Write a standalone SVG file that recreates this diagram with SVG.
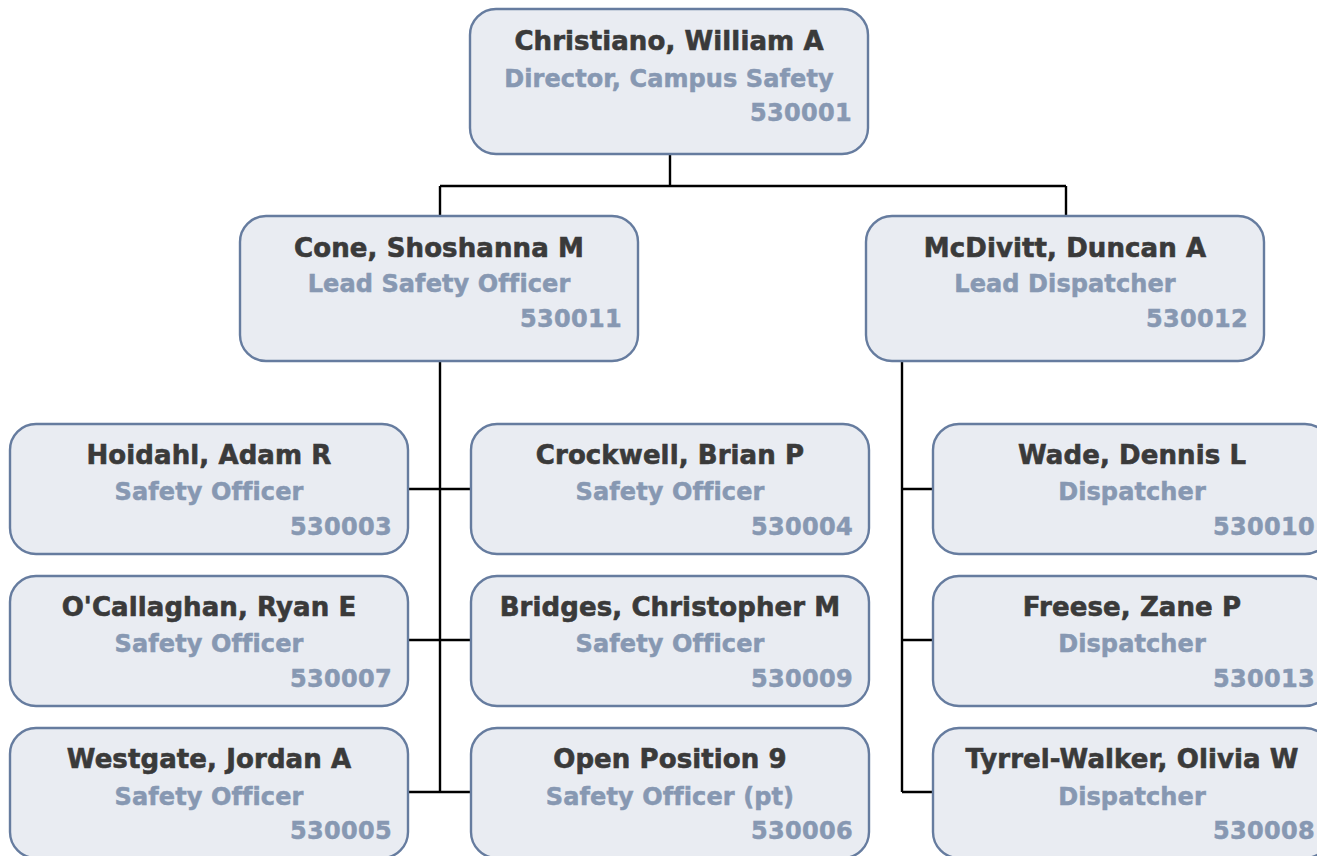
<svg xmlns="http://www.w3.org/2000/svg" width="1317" height="856" viewBox="0 0 1317 856">
  <style>
    .box { fill: #e9ecf2; stroke: #667c9f; stroke-width: 2.4; }
    .name { font-family: "DejaVu Sans", Verdana, sans-serif; font-weight: bold; font-size: 26px; letter-spacing: 0.1px; fill: #3a3a3a; stroke: #3a3a3a; stroke-width: 0.6; text-anchor: middle; }
    .title { font-family: "DejaVu Sans", Verdana, sans-serif; font-weight: bold; font-size: 24px; letter-spacing: 0.1px; fill: #8798b2; stroke: #8798b2; stroke-width: 0.5; text-anchor: middle; }
    .num { font-family: "DejaVu Sans", Verdana, sans-serif; font-weight: bold; font-size: 24px; letter-spacing: 0.3px; fill: #8798b2; stroke: #8798b2; stroke-width: 0.5; text-anchor: end; }
    .link { fill: none; stroke: #000; stroke-width: 2.4; }
  </style>

  <!-- reporting lines -->
  <g id="connectors">
    <path class="link" d="M670 154 V186 M440 186 H1066 M440 186 V216 M1066 186 V216"/>
    <path class="link" d="M440 361 V792 M408 489 H471 M408 640 H471 M408 792 H471"/>
    <path class="link" d="M902 361 V792 M902 489 H933 M902 640 H933 M902 792 H933"/>
  </g>

  <g id="node-530001">
    <rect class="box" x="470" y="9" width="398" height="145" rx="26"/>
    <text class="name" x="669" y="50">Christiano, William A</text>
    <text class="title" x="669" y="87">Director, Campus Safety</text>
    <text class="num" x="852" y="121">530001</text>
  </g>

  <g id="node-530011">
    <rect class="box" x="240" y="216" width="398" height="145" rx="26"/>
    <text class="name" x="439" y="257">Cone, Shoshanna M</text>
    <text class="title" x="439" y="292">Lead Safety Officer</text>
    <text class="num" x="622" y="327">530011</text>
  </g>

  <g id="node-530012">
    <rect class="box" x="866" y="216" width="398" height="145" rx="26"/>
    <text class="name" x="1065" y="257">McDivitt, Duncan A</text>
    <text class="title" x="1065" y="292">Lead Dispatcher</text>
    <text class="num" x="1248" y="327">530012</text>
  </g>

  <g id="node-530003">
    <rect class="box" x="10" y="424" width="398" height="130" rx="26"/>
    <text class="name" x="209" y="464">Hoidahl, Adam R</text>
    <text class="title" x="209" y="500">Safety Officer</text>
    <text class="num" x="392" y="535">530003</text>
  </g>

  <g id="node-530004">
    <rect class="box" x="471" y="424" width="398" height="130" rx="26"/>
    <text class="name" x="670" y="464">Crockwell, Brian P</text>
    <text class="title" x="670" y="500">Safety Officer</text>
    <text class="num" x="853" y="535">530004</text>
  </g>

  <g id="node-530007">
    <rect class="box" x="10" y="576" width="398" height="130" rx="26"/>
    <text class="name" x="209" y="616">O'Callaghan, Ryan E</text>
    <text class="title" x="209" y="652">Safety Officer</text>
    <text class="num" x="392" y="687">530007</text>
  </g>

  <g id="node-530009">
    <rect class="box" x="471" y="576" width="398" height="130" rx="26"/>
    <text class="name" x="670" y="616">Bridges, Christopher M</text>
    <text class="title" x="670" y="652">Safety Officer</text>
    <text class="num" x="853" y="687">530009</text>
  </g>

  <g id="node-530005">
    <rect class="box" x="10" y="728" width="398" height="130" rx="26"/>
    <text class="name" x="209" y="768">Westgate, Jordan A</text>
    <text class="title" x="209" y="805">Safety Officer</text>
    <text class="num" x="392" y="839">530005</text>
  </g>

  <g id="node-530006">
    <rect class="box" x="471" y="728" width="398" height="130" rx="26"/>
    <text class="name" x="670" y="768">Open Position 9</text>
    <text class="title" x="670" y="805">Safety Officer (pt)</text>
    <text class="num" x="853" y="839">530006</text>
  </g>

  <g id="node-530010">
    <rect class="box" x="933" y="424" width="398" height="130" rx="26"/>
    <text class="name" x="1132" y="464">Wade, Dennis L</text>
    <text class="title" x="1132" y="500">Dispatcher</text>
    <text class="num" x="1315" y="535">530010</text>
  </g>

  <g id="node-530013">
    <rect class="box" x="933" y="576" width="398" height="130" rx="26"/>
    <text class="name" x="1132" y="616">Freese, Zane P</text>
    <text class="title" x="1132" y="652">Dispatcher</text>
    <text class="num" x="1315" y="687">530013</text>
  </g>

  <g id="node-530008">
    <rect class="box" x="933" y="728" width="398" height="130" rx="26"/>
    <text class="name" x="1132" y="768">Tyrrel-Walker, Olivia W</text>
    <text class="title" x="1132" y="805">Dispatcher</text>
    <text class="num" x="1315" y="839">530008</text>
  </g>
</svg>
